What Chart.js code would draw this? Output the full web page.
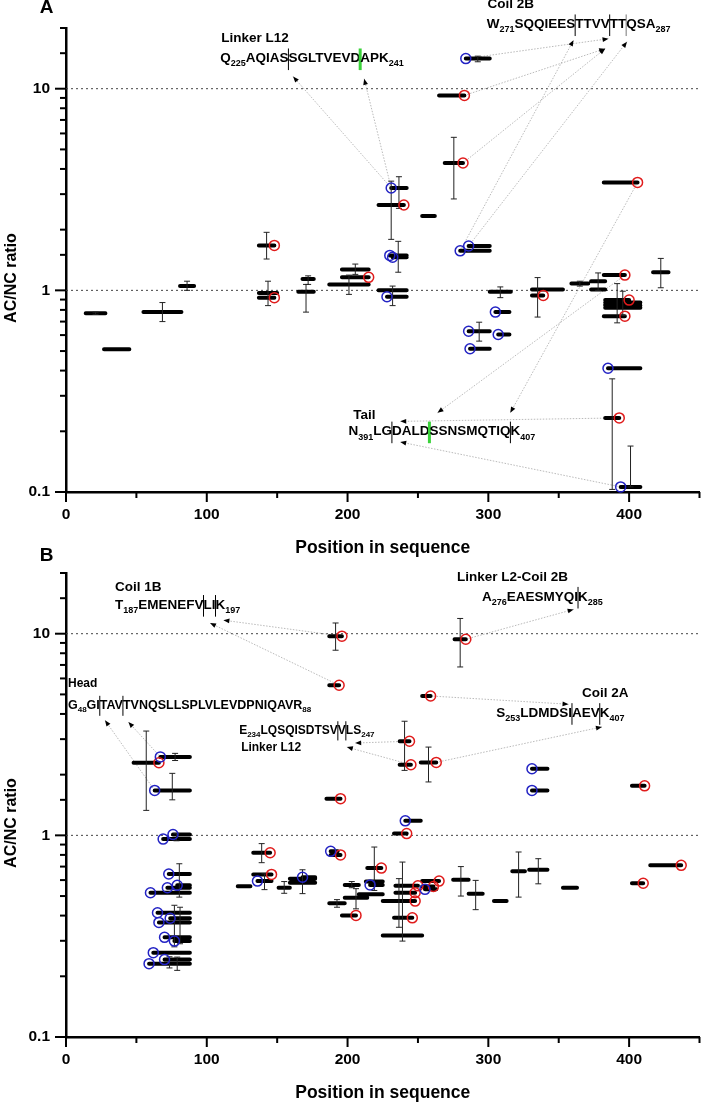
<!DOCTYPE html>
<html>
<head>
<meta charset="utf-8">
<script src="https://cdn.jsdelivr.net/npm/chart.js@4.4.1/dist/chart.umd.min.js"></script>
<style>
  html, body { margin: 0; padding: 0; background: #fff; }
  #wrap { position: relative; width: 701px; height: 1102px; overflow: hidden; }
  canvas { position: absolute; left: 0; }
  #chartA { top: 0; }
  #chartB { top: 545px; }
</style>
</head>
<body>
<div id="wrap">
  <canvas id="chartA" width="706" height="560"></canvas>
  <canvas id="chartB" width="706" height="557"></canvas>
</div>
<script>
// Peptide AC/NC ratios along the sequence, two panels (A, B), log y axis.

const FONT = '"Liberation Sans", Arial, Helvetica, sans-serif';
const BLUE = '#2323c4';
const RED = '#e01b1b';
const REF_LINES = [1, 10];

// ---- panel A: peptide start / end position, ratio, error bar, end marker (b = blue at start, r = red at end)
const A_START = [14, 27, 55, 81, 137, 137, 137, 165, 168, 187, 196, 196, 222, 228, 230, 232, 222, 231, 253, 269,
  280, 286, 284, 265, 301, 305, 286, 307, 287, 331, 331, 359, 373, 373, 382, 417, 382, 383, 383, 383,
  383, 383, 382, 385, 383, 394];
const A_END = [28, 45, 82, 91, 148, 150, 148, 176, 176, 215, 215, 215, 242, 242, 242, 242, 240, 242, 262, 282,
  301, 301, 301, 283, 316, 315, 301, 315, 301, 353, 339, 371, 383, 383, 397, 428, 406, 400, 408, 400,
  408, 408, 397, 408, 393, 408];
const A_RATIO = [0.77, 0.51, 0.78, 1.05, 1.67, 0.97, 0.92, 0.985, 1.14, 1.07, 1.16, 1.27, 1.0, 0.93, 1.49, 1.46, 2.65, 3.22, 2.34, 4.28,
  1.57, 1.66, 14.1, 9.26, 0.985, 0.78, 0.627, 0.604, 0.513, 1.01, 0.944, 1.08, 1.11, 1.01, 1.19, 1.23, 3.43, 0.895, 0.87, 0.85,
  0.84, 0.82, 0.745, 0.411, 0.233, 0.106];
const A_ERR_LO = [0.76, null, 0.70, 1.0, 1.43, 0.84, null, 0.78, 1.07, 0.955, null, 1.2, 0.84, null, 1.23, null, 1.79, 2.55, null, 2.84,
  null, null, 13.6, null, 0.92, null, 0.56, null, null, null, 0.737, 1.05, 1.0, null, null, 1.03, null, null, null, 0.69,
  0.75, null, null, null, 0.103, 0.106];
const A_ERR_HI = [0.78, null, 0.87, 1.11, 1.94, 1.11, null, 1.07, 1.18, 1.19, null, 1.35, 1.05, null, 1.75, null, 3.48, 3.66, null, 5.74,
  null, null, 14.5, null, 1.04, null, 0.695, null, null, null, 1.157, 1.11, 1.22, null, null, 1.44, null, null, null, 1.08,
  0.99, null, null, null, 0.364, 0.169];
const A_MARK = '----r-r---r--bbbrb-rbbbr-bbbb-r---r-rr----rbrb';

// ---- panel B
const B_START = [48, 67, 63, 76, 69, 73, 72, 79, 60, 65, 74, 66, 70, 77, 62, 70, 59, 187, 187, 185,
  133, 133, 136, 122, 151, 159, 168, 159, 188, 188, 187, 198, 196, 198, 208, 216, 213, 214, 241, 233,
  234, 234, 225, 233, 225, 253, 253, 255, 275, 286, 304, 317, 329, 353, 402, 415, 276, 253, 237, 237,
  252, 331, 331, 402];
const B_END = [66, 88, 88, 88, 88, 88, 88, 88, 88, 88, 88, 88, 88, 88, 88, 88, 88, 196, 194, 195,
  145, 146, 146, 131, 159, 177, 177, 177, 193, 195, 198, 208, 206, 214, 225, 225, 225, 224, 252, 242,
  250, 248, 248, 246, 253, 265, 261, 263, 286, 296, 313, 326, 342, 363, 410, 437, 284, 259, 244, 245,
  263, 342, 342, 411];
const B_RATIO = [2.29, 2.45, 1.67, 1.01, 0.958, 0.643, 0.55, 0.565, 0.519, 0.413, 0.388, 0.37, 0.312, 0.299, 0.262, 0.242, 0.231, 9.72, 5.55, 1.52,
  0.82, 0.64, 0.593, 0.56, 0.55, 0.61, 0.62, 0.582, 0.833, 0.80, 0.461, 0.568, 0.401, 0.49, 0.51, 0.568, 0.59, 0.688, 1.18, 1.02,
  0.562, 0.519, 0.472, 0.39, 0.319, 0.593, 0.558, 0.54, 0.602, 0.513, 0.472, 0.663, 0.675, 0.55, 0.579, 0.71, 9.39, 4.91, 2.93, 2.24,
  2.30, 2.14, 1.67, 1.76];
const B_ERR_LO = [1.33, 2.35, 1.50, null, 0.94, 0.494, null, null, null, null, 0.29, 0.28, null, null, null, 0.214, 0.22, 8.28, null, null,
  0.732, null, 0.538, null, 0.516, 0.514, null, null, null, null, 0.44, 0.55, null, 0.432, null, null, 0.533, null, null, null,
  null, null, 0.35, null, 0.299, null, null, null, 0.50, 0.428, null, 0.494, 0.575, null, null, null, 6.84, null, 2.10, null,
  1.84, null, null, null];
const B_ERR_HI = [3.29, 2.55, 2.03, null, 1.02, 0.723, null, null, null, null, 0.44, 0.45, null, null, null, 0.249, 0.25, 11.3, null, null,
  0.91, null, 0.645, null, 0.59, 0.675, null, null, null, null, 0.48, 0.59, null, 0.544, null, null, 0.875, null, null, null,
  null, null, 0.61, null, 0.737, null, null, null, 0.70, 0.598, null, 0.827, 0.766, null, null, null, 11.9, null, 3.68, null,
  2.74, null, null, null];
const B_MARK = 'rbbbbbbbbbbbbbbbbrrrrrb---b-br--r--b-rbrrrrr-rrb------rrrrrrrbbr';

// ---- annotations: sequence labels (x = position, y = ratio); _n_ subscript, | cut, ! green cut, ^ grey cut
const A_TEXTS = [
  { t: 'Linker L12', x: 110.2, y: 17.7 },
  { t: 'Q_225_AQIAS|SGLTVEVD!APK_241_', x: 109.5, y: 14.1 },
  { t: 'Coil 2B', x: 299.4, y: 26.2 },
  { t: 'W_271_SQQIEES|TTVV|TT^QSA_287_', x: 298.8, y: 20.8 },
  { t: 'Tail', x: 204, y: 0.239 },
  { t: 'N_391_LG|DALD!SSNSMQTIQ|K_407_', x: 200.6, y: 0.199 },
];
// [peptide index, arrow tip x, arrow tip y]
const A_LINKS = [[17, 161.3, 11.5], [17, 211.8, 11.2], [22, 385.4, 17.7], [23, 383, 15.8], [19, 383, 15.8],
  [20, 360.5, 17.4], [21, 398.5, 17.1], [44, 237.4, 0.224], [45, 237.4, 0.177], [34, 263.9, 0.247], [36, 315.6, 0.247]];

const B_TEXTS = [
  { t: 'Coil 1B', x: 34.8, y: 17.0 },
  { t: 'T_187_EMENEFV|LI|K_197_', x: 34.8, y: 13.85 },
  { t: 'Head', x: 1.4, y: 5.68, fs: 12 },
  { t: 'G_48_GI|TAV|TVNQSLLSPLVLEVDPNIQAVR_88_', x: 1.4, y: 4.42, fs: 12.5 },
  { t: 'E_234_LQSQISDTSV|V|LS_247_', x: 123, y: 3.32, fs: 12 },
  { t: 'Linker L12', x: 124.4, y: 2.73, fs: 12 },
  { t: 'Linker L2-Coil 2B', x: 277.7, y: 19.1 },
  { t: 'A_276_EAESMYQI|K_285_', x: 295.5, y: 15.2 },
  { t: 'Coil 2A', x: 366.5, y: 5.07 },
  { t: 'S_253_LDMDSI|AEV|K_407_', x: 305.6, y: 4.03 },
];
const B_LINKS = [[17, 111.8, 11.67], [18, 102.3, 11.3], [2, 27.7, 3.72], [1, 44.3, 3.65], [58, 205.4, 2.87],
  [59, 199.5, 2.74], [56, 360.6, 13.2], [57, 357, 4.47], [60, 380.7, 3.45]];

const CUT_COLORS = { '|': '#000', '!': '#3ad23a', '^': '#777' };

function toPx(chart, x, y) {
  return [chart.scales.x.getPixelForValue(x), chart.scales.y.getPixelForValue(y)];
}

function markerPx(chart, d, i) {
  const m = d.mark.charAt(i);
  const x = m === 'b' ? d.start[i] : m === 'r' ? d.end[i] : (d.start[i] + d.end[i]) / 2;
  return toPx(chart, x, d.ratio[i]);
}

function line(ctx, x0, y0, x1, y1) {
  ctx.beginPath(); ctx.moveTo(x0, y0); ctx.lineTo(x1, y1); ctx.stroke();
}

function arrowHead(ctx, x0, y0, x1, y1) {
  const a = Math.atan2(y1 - y0, x1 - x0), L = 6, W = 2.4;
  const c = Math.cos(a), s = Math.sin(a);
  ctx.beginPath();
  ctx.moveTo(x1, y1);
  ctx.lineTo(x1 - L * c + W * s, y1 - L * s - W * c);
  ctx.lineTo(x1 - L * c - W * s, y1 - L * s + W * c);
  ctx.closePath(); ctx.fill();
}

function drawSeq(ctx, s, x, yc, fs) {
  ctx.textAlign = 'left'; ctx.textBaseline = 'middle'; ctx.fillStyle = '#000';
  const sub = Math.round(fs * 0.66);
  for (const tok of s.split(/(_\d+_|[|!^])/)) {
    if (!tok) continue;
    if (CUT_COLORS[tok]) {
      ctx.save();
      ctx.strokeStyle = CUT_COLORS[tok]; ctx.lineWidth = tok === '!' ? 3 : 1;
      line(ctx, x, yc - fs * 0.75, x, yc + fs * 0.85);
      ctx.restore();
    } else if (tok[0] === '_') {
      const t = tok.slice(1, -1);
      ctx.font = `bold ${sub}px ${FONT}`;
      ctx.fillText(t, x, yc + fs * 0.4);
      x += ctx.measureText(t).width;
    } else {
      ctx.font = `bold ${fs}px ${FONT}`;
      ctx.fillText(tok, x, yc);
      x += ctx.measureText(tok).width;
    }
  }
}

const isDecade = v => Math.abs(Math.log10(v) - Math.round(Math.log10(v))) < 1e-6;

const overlay = {
  id: 'overlay',
  beforeDatasetsDraw(chart, args, o) {
    const { ctx, chartArea: ca } = chart;
    ctx.save();
    ctx.strokeStyle = '#444'; ctx.lineWidth = 1; ctx.setLineDash([2, 3]);
    REF_LINES.forEach(v => {
      const y = chart.scales.y.getPixelForValue(v);
      line(ctx, ca.left, y, ca.right, y);
    });
    ctx.strokeStyle = '#a8a8a8'; ctx.lineWidth = 0.8; ctx.setLineDash([1.5, 1.5]);
    o.links.forEach(([i, tx, ty]) => {
      const [x0, y0] = markerPx(chart, o.data, i);
      const [x1, y1] = toPx(chart, tx, ty);
      line(ctx, x0, y0, x1, y1);
    });
    ctx.restore();
  },
  afterDraw(chart, args, o) {
    const { ctx, chartArea: ca } = chart;
    const xs = chart.scales.x, ys = chart.scales.y;
    ctx.save();
    ctx.fillStyle = '#000';
    o.links.forEach(([i, tx, ty]) => {
      const [x0, y0] = markerPx(chart, o.data, i);
      const [x1, y1] = toPx(chart, tx, ty);
      arrowHead(ctx, x0, y0, x1, y1);
    });
    o.texts.forEach(a => {
      const [x, y] = toPx(chart, a.x, a.y);
      drawSeq(ctx, a.t, x, y, a.fs || 13.5);
    });
    // tick marks
    ctx.strokeStyle = '#000'; ctx.lineWidth = 2;
    ys.ticks.forEach(t => {
      const y = ys.getPixelForValue(t.value);
      line(ctx, ca.left - (isDecade(t.value) ? 11 : 6), y, ca.left, y);
    });
    xs.ticks.forEach(t => {
      const x = xs.getPixelForValue(t.value);
      line(ctx, x, ca.bottom, x, ca.bottom + (t.value % 100 === 0 ? 10 : 6));
    });
    // axis titles and panel letter
    ctx.fillStyle = '#000'; ctx.textAlign = 'center'; ctx.textBaseline = 'middle';
    ctx.font = `bold 17.5px ${FONT}`;
    ctx.fillText('Position in sequence', (ca.left + ca.right) / 2, ca.bottom + 56);
    ctx.save();
    ctx.translate(12, (ca.top + ca.bottom) / 2 + 18);
    ctx.rotate(-Math.PI / 2);
    ctx.font = `bold 16px ${FONT}`;
    ctx.fillText('AC/NC ratio', 0, 0);
    ctx.restore();
    ctx.font = `bold 19px ${FONT}`;
    ctx.fillText(o.letter, 46.5, o.letterY);
    ctx.restore();
  }
};

const TICK_FONT = { family: FONT, size: 15.5, weight: 'bold' };

function makeChart(id, d, o) {
  const seg = [], err = [], blue = [], red = [];
  d.start.forEach((s, i) => {
    const e = d.end[i], r = d.ratio[i];
    seg.push({ x: s, y: r }, { x: e, y: r }, { x: e, y: null });
    if (d.lo[i] != null) {
      const m = (s + e) / 2;
      err.push({ x: m, y: d.lo[i] }, { x: m, y: d.hi[i] }, { x: m, y: null });
    }
    const mk = d.mark.charAt(i);
    if (mk === 'b') blue.push({ x: s, y: r });
    if (mk === 'r') red.push({ x: e, y: r });
  });
  const ring = c => ({ showLine: false, pointStyle: 'circle', pointRadius: 5, pointBorderWidth: 1.5,
    pointBorderColor: c, pointBackgroundColor: 'rgba(0,0,0,0)', clip: false });
  return new Chart(document.getElementById(id), {
    type: 'line',
    data: { datasets: [
      { data: blue, ...ring(BLUE) },
      { data: red, ...ring(RED) },
      { data: err, borderColor: '#222', borderWidth: 1, pointStyle: 'line', pointRadius: 3,
        pointBorderWidth: 1, pointBorderColor: '#222', spanGaps: false, clip: false },
      { data: seg, borderColor: '#000', borderWidth: 4, borderCapStyle: 'round', pointRadius: 0,
        spanGaps: false, clip: false },
    ]},
    options: {
      responsive: false, animation: false, events: [],
      layout: { padding: { top: 28, right: 2, left: 0, bottom: 0 } },
      elements: { line: { tension: 0 } },
      plugins: { legend: { display: false }, tooltip: { enabled: false }, overlay: o },
      scales: {
        x: {
          type: 'linear', min: 0, max: 450,
          afterFit: s => { s.height = o.axisH; s.paddingLeft = 0; s.paddingRight = 0; },
          grid: { display: false, drawTicks: false },
          border: { color: '#000', width: 2.5 },
          ticks: { stepSize: 50, autoSkip: false, maxRotation: 0, padding: 13, color: '#000', font: TICK_FONT,
                   callback: v => (v % 100 === 0 ? String(v) : '') },
        },
        y: {
          type: 'logarithmic', min: 0.1, max: 20,
          afterFit: s => { s.width = 66; s.paddingTop = 0; s.paddingBottom = 0; },
          grid: { display: false, drawTicks: false },
          border: { color: '#000', width: 2.5 },
          ticks: { autoSkip: false, padding: 16, color: '#000', font: TICK_FONT,
                   callback: v => (isDecade(v) ? String(v) : '') },
        },
      },
    },
    plugins: [overlay],
  });
}

const dataA = { start: A_START, end: A_END, ratio: A_RATIO, lo: A_ERR_LO, hi: A_ERR_HI, mark: A_MARK };
const dataB = { start: B_START, end: B_END, ratio: B_RATIO, lo: B_ERR_LO, hi: B_ERR_HI, mark: B_MARK };

makeChart('chartA', dataA, { data: dataA, texts: A_TEXTS, links: A_LINKS, letter: 'A', letterY: 7.5, axisH: 68 });
makeChart('chartB', dataB, { data: dataB, texts: B_TEXTS, links: B_LINKS, letter: 'B', letterY: 11, axisH: 65 });
</script>
</body>
</html>
